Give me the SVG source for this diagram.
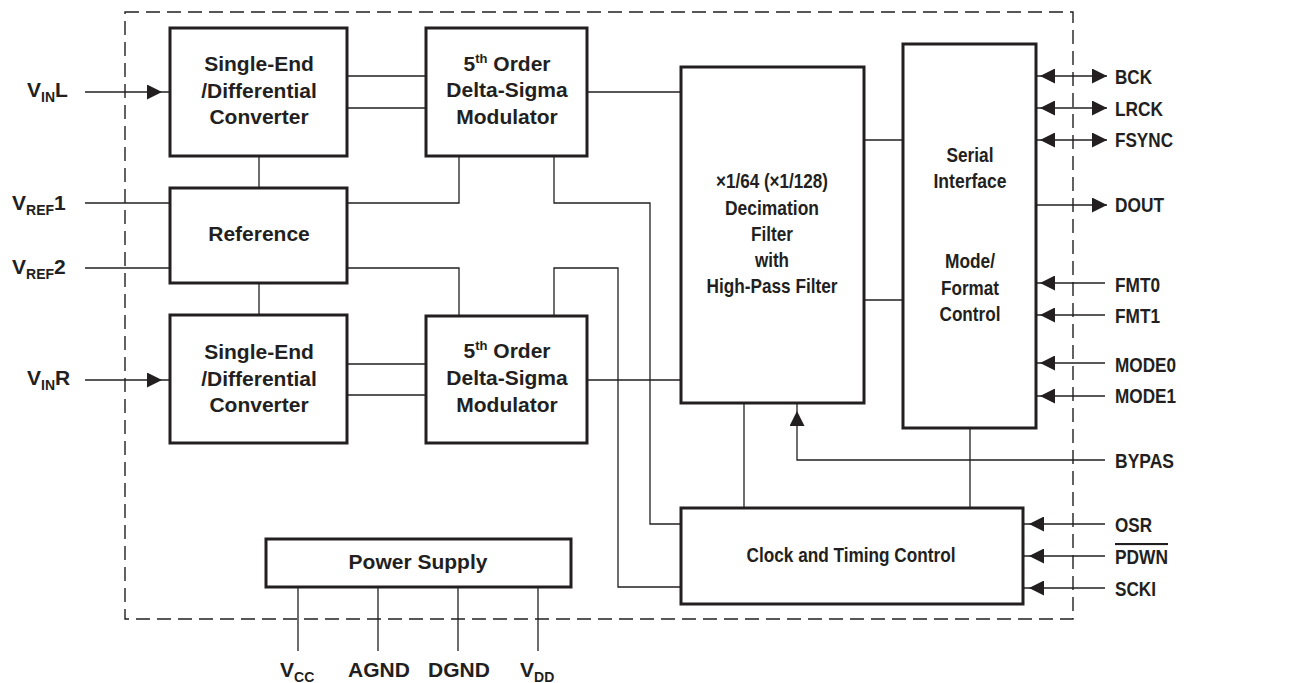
<svg xmlns="http://www.w3.org/2000/svg" width="1291" height="683" viewBox="0 0 1291 683">
<style>
.box{fill:#fff;stroke:#231f20;stroke-width:3}
.w{fill:none;stroke:#231f20;stroke-width:1.3}
.frame{fill:none;stroke:#231f20;stroke-width:1.4;stroke-dasharray:14 7}
text{font-family:"Liberation Sans",Arial,sans-serif;font-weight:bold;font-size:21px;fill:#231f20}
.c{text-anchor:middle}
.s{font-size:14px}
.sup{font-size:13px}
</style>
<defs>
<marker id="m0" markerUnits="userSpaceOnUse" markerWidth="15" markerHeight="15" refX="15" refY="7.5" orient="auto-start-reverse"><path d="M0,0 L15,7.5 L0,15 z" fill="#231f20"/></marker>
<marker id="m4" markerUnits="userSpaceOnUse" markerWidth="15" markerHeight="15" refX="19" refY="7.5" orient="auto-start-reverse"><path d="M0,0 L15,7.5 L0,15 z" fill="#231f20"/></marker>
<marker id="m6" markerUnits="userSpaceOnUse" markerWidth="15" markerHeight="15" refX="21" refY="7.5" orient="auto-start-reverse"><path d="M0,0 L15,7.5 L0,15 z" fill="#231f20"/></marker>
<marker id="m8" markerUnits="userSpaceOnUse" markerWidth="15" markerHeight="15" refX="23" refY="7.5" orient="auto-start-reverse"><path d="M0,0 L15,7.5 L0,15 z" fill="#231f20"/></marker>
</defs>
<rect class="frame" x="125" y="12" width="948" height="607"/>
<g id="connectors">
<path class="w" d="M85,92 H170" marker-end="url(#m8)"/>
<path class="w" d="M85,380 H170" marker-end="url(#m8)"/>
<path class="w" d="M85,203 H170"/>
<path class="w" d="M85,268 H170"/>
<path class="w" d="M347,76 H426 M347,108 H426 M347,364 H426 M347,395 H426"/>
<path class="w" d="M259,156 V188 M259,283 V315"/>
<path class="w" d="M459,156 V203 H347"/>
<path class="w" d="M554,156 V203 H650 V524 H681"/>
<path class="w" d="M459,316 V268 H347"/>
<path class="w" d="M554,316 V268 H618 V587 H681"/>
<path class="w" d="M587,92 H681 M587,380 H681"/>
<path class="w" d="M864,140 H903 M864,300 H903"/>
<path class="w" d="M744,403 V508 M970,428 V508"/>
<path class="w" d="M1105,460 H797 V403" marker-end="url(#m8)"/>
<path class="w" d="M1036,76 H1107" marker-start="url(#m4)" marker-end="url(#m0)"/>
<path class="w" d="M1036,108 H1107" marker-start="url(#m4)" marker-end="url(#m0)"/>
<path class="w" d="M1036,140 H1107" marker-start="url(#m4)" marker-end="url(#m0)"/>
<path class="w" d="M1036,205 H1107" marker-end="url(#m0)"/>
<path class="w" d="M1105,283 H1036" marker-end="url(#m4)"/>
<path class="w" d="M1105,315 H1036" marker-end="url(#m4)"/>
<path class="w" d="M1105,363 H1036" marker-end="url(#m4)"/>
<path class="w" d="M1105,396 H1036" marker-end="url(#m4)"/>
<path class="w" d="M1105,524 H1023" marker-end="url(#m6)"/>
<path class="w" d="M1105,556 H1023" marker-end="url(#m6)"/>
<path class="w" d="M1105,588 H1023" marker-end="url(#m6)"/>
<path class="w" d="M298,587 V651 M378,587 V651 M458,587 V651 M538,587 V651"/>
</g>
<g id="se1"><rect class="box" x="170" y="28" width="177" height="128"/>
<text class="c" x="259" y="71">Single-End</text><text class="c" x="259" y="98">/Differential</text><text class="c" x="259" y="124">Converter</text></g>
<g id="ref"><rect class="box" x="170" y="188" width="177" height="95"/>
<text class="c" x="259" y="241">Reference</text></g>
<g id="se2"><rect class="box" x="170" y="315" width="177" height="128"/>
<text class="c" x="259" y="359">Single-End</text><text class="c" x="259" y="386">/Differential</text><text class="c" x="259" y="412">Converter</text></g>
<g id="mod1"><rect class="box" x="426" y="28" width="161" height="128"/>
<text class="c" x="507" y="71">5<tspan class="sup" dy="-8">th</tspan><tspan dy="8"> Order</tspan></text><text class="c" x="507" y="97">Delta-Sigma</text><text class="c" x="507" y="124">Modulator</text></g>
<g id="mod2"><rect class="box" x="426" y="316" width="161" height="127"/>
<text class="c" x="507" y="358">5<tspan class="sup" dy="-8">th</tspan><tspan dy="8"> Order</tspan></text><text class="c" x="507" y="385">Delta-Sigma</text><text class="c" x="507" y="412">Modulator</text></g>
<g id="dec"><rect class="box" x="681" y="67" width="183" height="336"/>
<text class="c" x="772" y="188" textLength="112" lengthAdjust="spacingAndGlyphs">×1/64 (×1/128)</text>
<text class="c" x="772" y="215" textLength="94" lengthAdjust="spacingAndGlyphs">Decimation</text>
<text class="c" x="772" y="241" textLength="42" lengthAdjust="spacingAndGlyphs">Filter</text>
<text class="c" x="772" y="267" textLength="34" lengthAdjust="spacingAndGlyphs">with</text>
<text class="c" x="772" y="293" textLength="131" lengthAdjust="spacingAndGlyphs">High-Pass Filter</text></g>
<g id="ser"><rect class="box" x="903" y="44" width="133" height="384"/>
<text class="c" x="970" y="162" textLength="47" lengthAdjust="spacingAndGlyphs">Serial</text>
<text class="c" x="970" y="188" textLength="73" lengthAdjust="spacingAndGlyphs">Interface</text>
<text class="c" x="970" y="268" textLength="50" lengthAdjust="spacingAndGlyphs">Mode/</text>
<text class="c" x="970" y="295" textLength="58" lengthAdjust="spacingAndGlyphs">Format</text>
<text class="c" x="970" y="321" textLength="61" lengthAdjust="spacingAndGlyphs">Control</text></g>
<g id="clk"><rect class="box" x="681" y="508" width="342" height="96"/>
<text class="c" x="851" y="562" textLength="209" lengthAdjust="spacingAndGlyphs">Clock and Timing Control</text></g>
<g id="pwr"><rect class="box" x="266" y="539" width="305" height="48"/>
<text class="c" x="418" y="569">Power Supply</text></g>
<g id="pins-left">
<text x="27" y="97">V<tspan class="s" dy="5">IN</tspan><tspan dy="-5">L</tspan></text>
<text x="12" y="210">V<tspan class="s" dy="5">REF</tspan><tspan dy="-5">1</tspan></text>
<text x="12" y="274">V<tspan class="s" dy="5">REF</tspan><tspan dy="-5">2</tspan></text>
<text x="27" y="385">V<tspan class="s" dy="5">IN</tspan><tspan dy="-5">R</tspan></text>
</g>
<g id="pins-right">
<text x="1115" y="84" textLength="37" lengthAdjust="spacingAndGlyphs">BCK</text>
<text x="1115" y="116" textLength="48" lengthAdjust="spacingAndGlyphs">LRCK</text>
<text x="1115" y="147" textLength="58" lengthAdjust="spacingAndGlyphs">FSYNC</text>
<text x="1115" y="212" textLength="49" lengthAdjust="spacingAndGlyphs">DOUT</text>
<text x="1115" y="292" textLength="45" lengthAdjust="spacingAndGlyphs">FMT0</text>
<text x="1115" y="323" textLength="45" lengthAdjust="spacingAndGlyphs">FMT1</text>
<text x="1115" y="372" textLength="61" lengthAdjust="spacingAndGlyphs">MODE0</text>
<text x="1115" y="403" textLength="61" lengthAdjust="spacingAndGlyphs">MODE1</text>
<text x="1115" y="468" textLength="59" lengthAdjust="spacingAndGlyphs">BYPAS</text>
<text x="1115" y="532" textLength="37" lengthAdjust="spacingAndGlyphs">OSR</text>
<text x="1115" y="564" textLength="53" lengthAdjust="spacingAndGlyphs" text-decoration="overline">PDWN</text>
<text x="1115" y="596" textLength="41" lengthAdjust="spacingAndGlyphs">SCKI</text>
</g>
<g id="pins-bottom">
<text x="280" y="677">V<tspan class="s" dy="5">CC</tspan></text>
<text x="348" y="677">AGND</text>
<text x="428" y="677">DGND</text>
<text x="520" y="677">V<tspan class="s" dy="5">DD</tspan></text>
</g>
</svg>
